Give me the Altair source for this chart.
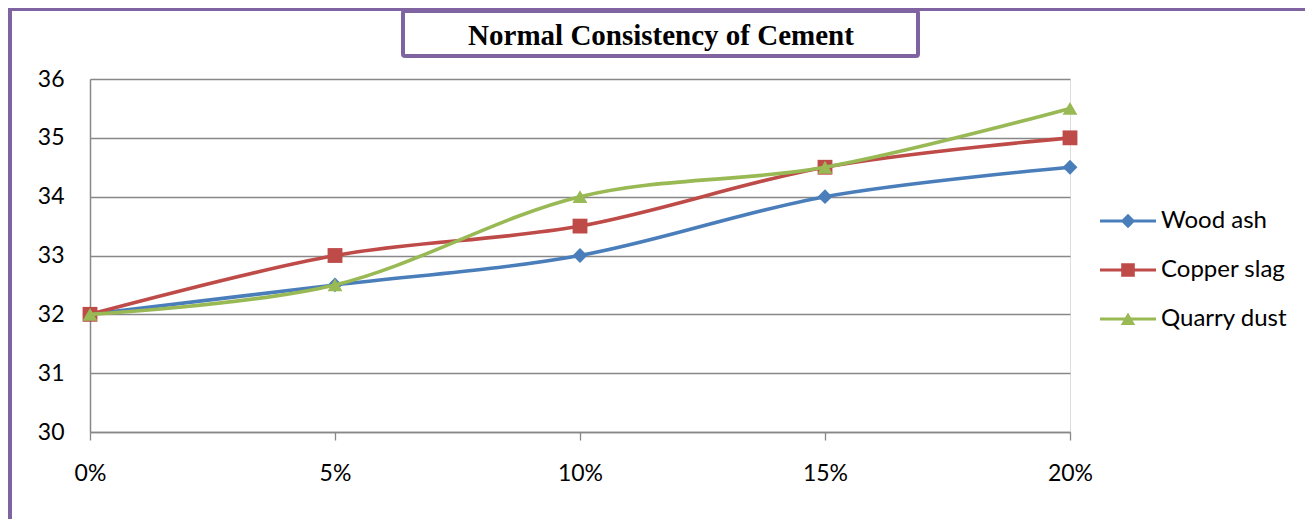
import altair as alt
import pandas as pd

x_vals = [0, 5, 10, 15, 20]
series_names = ["Wood ash", "Copper slag", "Quarry dust"]
wood_ash = [32, 32.5, 33, 34, 34.5]
copper_slag = [32, 33, 33.5, 34.5, 35]
quarry_dust = [32, 32.5, 34, 34.5, 35.5]
colors = ["#4A7EBB", "#BE4B48", "#98B954"]
shapes = ["diamond", "square", "triangle-up"]
legend_paths = [
    "M-1.4,-0.08H1.4V0.08H-1.4Z M-0.36,0L0,-0.36L0.36,0L0,0.36Z",
    "M-1.4,-0.08H1.4V0.08H-1.4Z M-0.34,-0.34H0.34V0.34H-0.34Z",
    "M-1.4,-0.08H1.4V0.08H-1.4Z M-0.36,0.3L0,-0.33L0.36,0.3Z",
]
title_text = "Normal Consistency of Cement"

rows = []
for name, vals in zip(series_names, [wood_ash, copper_slag, quarry_dust]):
    for xv, yv in zip(x_vals, vals):
        rows.append({"pct": xv, "value": yv, "series": name})
df = pd.DataFrame(rows)

FONT = "Lato"
GRAY = "#888888"

x_enc = alt.X(
    "pct:Q",
    scale=alt.Scale(domain=[0, 20], nice=False),
    axis=alt.Axis(
        values=x_vals, labelExpr="datum.value + '%'", grid=False, ticks=True,
        tickSize=8, tickColor=GRAY, tickWidth=1.3, domainColor=GRAY, domainWidth=1.5,
        labelPadding=22, labelFontSize=23, labelFont=FONT, labelColor="black",
        labelFlush=False, title=None,
    ),
)
y_enc = alt.Y(
    "value:Q",
    scale=alt.Scale(domain=[30, 36], nice=False),
    axis=alt.Axis(
        values=[30, 31, 32, 33, 34, 35, 36], grid=True, gridColor=GRAY, gridWidth=1.5,
        ticks=False, domainColor=GRAY, domainWidth=1.5, labelPadding=26,
        labelFontSize=23, labelFont=FONT, labelColor="black", title=None,
    ),
)

base = alt.Chart(df)
layers = []

# outer chart frame and title box (decorations)
one = alt.Data(values=[{"t": title_text}])
frame = alt.Chart(one).mark_rect(
    fillOpacity=0, stroke="#8064A2", strokeWidth=4
).encode(x=alt.value(-80), x2=alt.value(1400), y=alt.value(-70), y2=alt.value(700))
title_box = alt.Chart(one).mark_rect(
    fillOpacity=0, stroke="#8064A2", strokeWidth=4, cornerRadius=2
).encode(x=alt.value(313), x2=alt.value(828), y=alt.value(-68), y2=alt.value(-23))
title_mark = alt.Chart(one).mark_text(
    font="Liberation Serif", fontSize=29, fontWeight="bold", color="black",
    align="center", baseline="alphabetic",
).encode(text="t:N", x=alt.value(571), y=alt.value(-34))
layers += [frame, title_box, title_mark]

for name, col, shp in zip(series_names, colors, shapes):
    sub = base.transform_filter(alt.datum.series == name)
    layers.append(sub.mark_line(interpolate="cardinal", strokeWidth=3.6, color=col).encode(x=x_enc, y=y_enc))
    layers.append(sub.mark_point(filled=True, shape=shp, size=220, color=col, opacity=1).encode(x=x_enc, y=y_enc))

legend_props = dict(
    title=None, orient="none", legendX=1018, legendY=122, padding=0,
    symbolSize=1600, symbolStrokeWidth=0, symbolOpacity=1, labelOffset=13,
    rowPadding=17, labelFontSize=24, labelFont=FONT, labelColor="black",
    labelLimit=300,
)
ghost = base.mark_point(filled=True, opacity=0).encode(
    x=x_enc, y=y_enc,
    fill=alt.Fill("series:N", scale=alt.Scale(domain=series_names, range=colors),
                  sort=series_names, legend=alt.Legend(**legend_props)),
    shape=alt.Shape("series:N", scale=alt.Scale(domain=series_names, range=legend_paths),
                    sort=series_names, legend=alt.Legend(**legend_props)),
)
layers.append(ghost)

chart = alt.layer(*layers).properties(
    width=980, height=353,
    autosize=alt.AutoSizeParams(type="none"),
    padding={"left": 82, "top": 71, "right": 235, "bottom": 87},
).configure_view(stroke=None).configure(background="white")

chart.save("out.html", embed_options={"renderer": "svg", "actions": False})
